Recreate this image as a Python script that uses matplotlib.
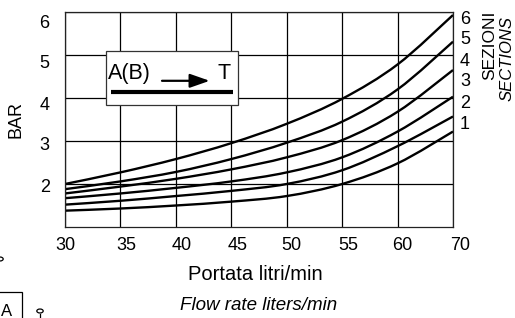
import matplotlib
matplotlib.use('Agg')
import matplotlib.pyplot as plt
from matplotlib.patches import Rectangle, Circle, PathPatch
from matplotlib.path import Path
from matplotlib.transforms import ScaledTranslation

plt.rcParams['font.family'] = ['Liberation Sans', 'DejaVu Sans']

# flow rate (axis positions) and pressure drop per section, bottom (1) to top (6)
flow = [30, 35, 40, 45, 50, 55, 60, 65]
flow_labels = ['30', '35', '40', '45', '50', '55', '60', '70']
sec1 = [1.38, 1.43, 1.50, 1.59, 1.72, 2.00, 2.48, 3.22]
sec2 = [1.52, 1.61, 1.72, 1.84, 2.00, 2.32, 2.88, 3.57]
sec3 = [1.67, 1.78, 1.91, 2.06, 2.27, 2.62, 3.22, 4.03]
sec4 = [1.78, 1.94, 2.12, 2.34, 2.62, 3.02, 3.68, 4.65]
sec5 = [1.88, 2.06, 2.28, 2.58, 2.96, 3.45, 4.20, 5.31]
sec6 = [2.00, 2.27, 2.58, 2.95, 3.40, 3.98, 4.78, 5.93]
sections = [sec1, sec2, sec3, sec4, sec5, sec6]
section_names = ['1', '2', '3', '4', '5', '6']
bar_ticks = [2, 3, 4, 5, 6]

W, H = 515, 318
fig = plt.figure(figsize=(W / 100, H / 100), dpi=100)
ax = fig.add_axes([65 / W, 1 - 227 / H, (453 - 65) / W, (227 - 12) / H])


def px(x, y):
    return x / W, 1 - y / H


def smooth_path(xs, ys):
    # cubic bezier through every point (catmull-rom tangents)
    pts = list(zip(xs, ys))
    verts = [pts[0]]
    codes = [Path.MOVETO]
    n = len(pts)
    for i in range(n - 1):
        p0 = pts[max(i - 1, 0)]
        p1 = pts[i]
        p2 = pts[i + 1]
        p3 = pts[min(i + 2, n - 1)]
        c1 = (p1[0] + (p2[0] - p0[0]) / 6, p1[1] + (p2[1] - p0[1]) / 6)
        c2 = (p2[0] - (p3[0] - p1[0]) / 6, p2[1] - (p3[1] - p1[1]) / 6)
        verts += [c1, c2, p2]
        codes += [Path.CURVE4] * 3
    return Path(verts, codes)


for s in sections:
    ax.add_patch(PathPatch(smooth_path(flow, s), facecolor='none', edgecolor='black',
                           lw=1.7, zorder=2))

ax.set_xlim(30, 65)
ax.set_ylim(1, 6)
ax.set_xticks(flow)
ax.set_xticklabels(flow_labels)
ax.set_yticks(bar_ticks)
ax.tick_params(length=0, labelsize=13)
ax.tick_params(axis='x', pad=7)
ax.tick_params(axis='y', pad=11)
ax.grid(True, color='black', lw=0.9)
ax.set_axisbelow(True)
for sp in ax.spines.values():
    sp.set_linewidth(0.9)
    sp.set_color('#222222')

# small nudges of tick labels as in the scanned chart
for lab, dx in zip(ax.get_xticklabels(), [0, 6, 6, 6, 5, 6, 5, 7]):
    lab.set_transform(lab.get_transform() + ScaledTranslation(dx / 100, 0, fig.dpi_scale_trans))
for lab, dy in zip(ax.get_yticklabels(), [1.5, 2, 6, 7, 10]):
    lab.set_transform(lab.get_transform() + ScaledTranslation(0, -dy / 100, fig.dpi_scale_trans))

# A(B) -> T box
ax.add_patch(Rectangle((33.70, 3.84), 11.91, 1.26, facecolor='white',
                       edgecolor='#333333', lw=0.9, zorder=3))
ax.text(33.9, 4.44, 'A(B)', fontsize=15.5, ha='left', va='baseline', zorder=4)
ax.text(44.35, 4.44, 'T', fontsize=15.5, ha='center', va='baseline', zorder=4)
ax.annotate('', xy=(43.3, 4.40), xytext=(38.5, 4.40), zorder=4,
            arrowprops=dict(arrowstyle='-|>,head_length=1.0,head_width=0.35',
                            lw=1.6, color='black', mutation_scale=12))
ax.plot([34.15, 45.15], [4.15, 4.15], color='black', lw=3, zorder=4,
        solid_capstyle='butt')

# section numbers on the right
for name, y in zip(section_names, [124.5, 103, 82, 62, 40, 20]):
    fig.text(*px(465, y), name, fontsize=13, ha='center', va='center')
fig.text(*px(490, 11), 'SEZIONI', fontsize=12.5, rotation=90, ha='center', va='top')
fig.text(*px(507, 16), 'SECTIONS', fontsize=12, rotation=90, ha='center', va='top',
         style='italic')

fig.text(*px(16, 120), 'BAR', fontsize=13, rotation=90, ha='center', va='center')

fig.text(*px(255, 274), 'Portata litri/min', fontsize=14.5, ha='center', va='center')
fig.text(*px(259, 306), 'Flow rate liters/min', fontsize=13.5, ha='center', va='center',
         style='italic')

# fragments of the neighbouring drawing at the bottom-left edge
fig.patches.append(Rectangle(px(-10, 332), 32 / W, 40 / H, transform=fig.transFigure,
                             fill=False, edgecolor='black', lw=0.9))
fig.text(*px(1, 316), 'A', fontsize=12, ha='left', va='baseline')
fig.patches.append(Circle(px(40, 311), 3.2 / W, transform=fig.transFigure,
                          fill=False, edgecolor='black', lw=0.9))
fig.lines.append(plt.Line2D([40 / W, 40 / W], [1 - 314 / H, 0], transform=fig.transFigure,
                            color='black', lw=0.9))
fig.patches.append(Circle(px(0, 259), 3.2 / W, transform=fig.transFigure,
                          fill=False, edgecolor='black', lw=0.9))

fig.savefig('out.png', dpi=100)
